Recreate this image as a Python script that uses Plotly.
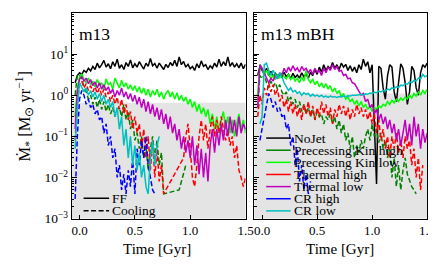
import plotly.graph_objects as go

W, H = 436, 273
FONT = "Liberation Serif"

# ---- time sampling (Gyr) ----
T0 = -0.04
DT = 0.02

SERIES = ["NoJet", "Precessing Kin high", "Precessing Kin low", "Thermal high",
          "Thermal low", "CR high", "CR low"]
COLORS = ["#000000", "#008000", "#00ff00", "#ff0000", "#bf00bf", "#0000ff", "#00bfbf"]
DASHED = [False, True, False, True, False, True, False]

# ---- m13 (left panel), SFR in Msun/yr ----
m13_nojet = [2.0, 3.0, 3.5, 3.2, 4.0, 3.6, 4.5, 3.9, 5.0, 4.2, 6.0, 4.6, 5.5, 7.0, 4.8, 5.8,
             4.4, 6.5, 5.0, 7.5, 4.5, 5.5, 4.2, 6.2, 5.0, 7.2, 4.6, 5.8, 4.8, 6.5, 5.2, 4.3,
             6.0, 5.0, 7.8, 5.2, 5.9, 4.5, 6.0, 5.0, 4.2, 5.6, 4.7, 6.2, 5.2, 7.0, 5.0, 8.5,
             5.5, 6.6, 4.8, 5.6, 4.4, 5.0, 4.0, 5.8, 4.6, 6.8, 5.0, 5.5, 4.2, 5.2, 4.5, 6.0,
             4.8, 7.5, 5.0, 6.5, 5.2, 8.5, 5.0, 6.2, 4.8, 5.8, 4.6, 6.0, 4.4, 5.6]
m13_kin_high = [1.0, 3.0, 3.2, 2.4, 1.6, 1.2, 0.8, 1.0, 0.6, 0.9, 0.5, 0.8, 0.45, 0.7, 0.4, 0.6,
                0.35, 0.5, 0.3, 0.45, 0.5, 0.3, 0.6, 0.25, 0.4, 0.15, 0.25, 0.08, 0.12, 0.05,
                0.1, 0.03, 0.06, 0.015, 0.05, 0.1, 0.03, 0.08, 0.02, 0.04, 0.004,
                None, None, None, None, None, None, 0.005, None, None, 0.02]
m13_kin_low = [0.3, 1.5, 2.8, 3.2, 2.5, 2.0, 2.6, 1.8, 2.2, 1.6, 2.4, 1.7, 2.0, 1.4, 2.5, 1.8,
               2.0, 1.4, 2.6, 1.9, 1.5, 2.3, 1.6, 2.0, 1.4, 1.8, 1.3, 1.7, 1.2, 1.6, 1.1, 1.5,
               1.0, 1.4, 0.9, 1.3, 1.0, 1.4, 0.9, 1.2, 0.8, 1.1, 1.3, 0.9, 1.2, 0.8, 1.15, 0.75,
               1.0, 0.7, 0.9, 0.6, 0.8, 0.5, 0.7, 0.4, 0.6, 0.35, 0.5, 0.3, 0.45, 0.2, 0.35,
               0.15, 0.3, 0.12, 0.25, 0.4, 0.15, 0.3, 0.12, 0.25, 0.1, 0.2, 0.35, 0.15, 0.25, 0.12]
m13_th_high = [0.08, 0.6, 1.8, 2.2, 1.5, 1.9, 1.3, 1.7, 1.2, 1.6, 1.1, 1.5, 1.0, 1.4, 0.9, 1.2,
               0.7, 1.0, 0.6, 0.9, 0.45, 0.8, 0.35, 0.6, 0.25, 0.4, 0.15, 0.3, 0.12, 0.2, 0.05,
               0.15, 0.03, 0.1, 0.015, 0.08, 0.01, 0.05, 0.008, 0.02, 0.004,
               None, None, None, None, None, None, None, None,
               0.03, 0.1, 0.2, 0.05, 0.01, 0.006, 0.02, 0.1, 0.25, 0.08, 0.2, 0.05, 0.15, 0.3,
               0.1, 0.25, 0.12, 0.3, 0.15, 0.08, 0.15, 0.06, 0.1, 0.03, 0.06, 0.015, 0.01,
               0.006, 0.01]
m13_th_low = [0.15, 1.2, 2.5, 2.8, 2.2, 2.6, 1.9, 2.4, 1.7, 2.1, 1.5, 2.0, 1.4, 1.8, 1.3, 1.6,
              1.1, 1.4, 0.9, 1.3, 1.0, 1.5, 0.9, 1.2, 0.8, 1.1, 0.7, 1.0, 0.6, 0.9, 0.5, 0.8,
              0.4, 0.7, 0.35, 0.6, 0.3, 0.5, 0.25, 0.45, 0.2, 0.35, 0.15, 0.3, 0.12, 0.2, 0.08,
              0.15, 0.05, 0.1, 0.04, 0.08, 0.03, 0.1, 0.02, 0.06, 0.012, 0.05, 0.01, 0.04,
              0.008, 0.06, 0.15, 0.04, 0.15, 0.06, 0.2, 0.08, 0.25, 0.1, 0.3, 0.12, 0.25, 0.1,
              0.3, 0.12, 0.2, 0.15]
m13_cr_high = [0.003, 0.1, 0.8, 1.3, 1.0, 0.6, 0.8, 0.5, 0.6, 0.35, 0.45, 0.25, 0.3, 0.12, 0.2,
               0.06, 0.1, 0.03, 0.05, 0.01, 0.02, 0.005, 0.012, 0.004, 0.015, 0.006, 0.03,
               0.004, 0.05, 0.02, 0.08, 0.03, 0.1, 0.02, 0.01, 0.005, 0.004]
m13_cr_low = [0.05, 0.5, 2.0, 1.6, 1.2, 1.5, 1.0, 1.3, 0.9, 1.2, 0.8, 1.1, 0.7, 1.0, 0.6, 0.8,
              0.5, 0.7, 0.3, 0.5, 0.15, 0.3, 0.06, 0.15, 0.03, 0.1, 0.02, 0.06, 0.015, 0.04,
              0.01, 0.02, 0.006, 0.004, 0.03, 0.08, 0.02, 0.06, 0.1]

# ---- m13 mBH (right panel) ----
mbh_nojet = [3.0, 5.0, 4.0, 3.2, 4.5, 3.0, 3.8, 2.8, 3.5, 2.6, 3.3, 2.7, 3.6, 2.8, 3.2, 2.5,
             3.4, 2.7, 3.1, 2.6, 3.5, 2.8, 3.3, 2.6, 3.6, 3.0, 4.2, 3.2, 4.8, 3.6, 5.5, 4.0,
             5.0, 4.4, 6.2, 4.5, 5.5, 4.2, 6.0, 4.8, 5.6, 4.0, 5.2, 3.8, 4.8, 3.5, 5.5, 4.2,
             7.5, 5.0, 6.5, 3.5, 5.5, 0.3, 0.007, 5.0, 4.5, 1.5, 0.8, 3.0, 5.5, 4.8, 1.2, 0.7,
             2.5, 5.8, 4.5, 2.0, 0.6, 1.2, 5.0, 4.0, 1.5, 1.0, 3.5, 5.5, 4.8, 6.0]
mbh_kin_high = [0.5, 3.0, 2.5, 3.2, 2.0, 1.5, 2.2, 1.6, 2.0, 1.4, 1.8, 1.2, 1.0, 1.2, 0.7, 0.9,
                0.6, 0.8, 0.5, 0.7, 0.4, 0.6, 0.35, 0.5, 0.3, 0.45, 0.25, 0.4, 0.3, 0.35, 0.2,
                0.3, 0.25, 0.35, 0.2, 0.3, 0.15, 0.25, 0.12, 0.2, 0.08, 0.12, 0.05, 0.1, 0.03,
                0.06, 0.04, 0.08, 0.05, 0.1, 0.15, 0.08, 0.2, 0.1, 0.15, 0.07, 0.12, 0.05,
                0.08, 0.03, 0.05, 0.01, 0.03, 0.006, 0.02, 0.005, 0.015, 0.03, 0.012, 0.008,
                0.006, 0.005, 0.004]
mbh_kin_low = [1.0, 5.5, 4.5, 3.0, 4.0, 3.2, 2.5, 3.0, 2.4, 3.2, 2.6, 3.5, 2.8, 2.5, 3.2, 2.4,
               2.8, 2.2, 2.6, 2.0, 2.8, 2.2, 4.0, 2.4, 2.0, 2.5, 1.8, 2.2, 1.6, 2.0, 1.5, 1.9,
               1.4, 1.7, 1.2, 1.5, 1.1, 1.3, 0.9, 1.1, 0.8, 0.9, 0.7, 0.8, 0.6, 0.75, 0.55, 0.7,
               0.5, 0.6, 0.45, 0.55, 0.4, 0.5, 0.45, 0.55, 0.5, 0.6, 0.55, 0.7, 0.6, 0.75, 0.65,
               0.8, 0.7, 0.85, 0.75, 0.9, 0.8, 1.0, 0.85, 1.1, 0.95, 1.2, 1.0, 1.3, 1.1, 1.4]
mbh_th_high = [0.3, 1.0, 0.6, 1.5, 1.0, 2.0, 1.2, 1.8, 1.0, 1.4, 0.7, 1.0, 0.5, 0.8, 0.4, 0.7,
               0.35, 0.6, 0.3, 0.5, 0.25, 0.6, 0.35, 0.7, 0.3, 0.55, 0.25, 0.5, 0.3, 0.7, 0.35,
               0.6, 0.3, 0.5, 0.2, 0.45, 0.3, 0.6, 0.35, 0.55, 0.3, 0.5, 0.25, 0.45, 0.3, 0.6,
               0.35, 0.5, 0.3, 0.45, 0.25, 0.4, 0.2, 0.35, 0.12, 0.25, 0.08, 0.15, 0.05, 0.1,
               0.03, 0.1, 0.05, 0.12, 0.04, 0.08, 0.03, 0.1, 0.05, 0.08, 0.02, 0.05, 0.01, 0.03,
               0.005, 0.02]
mbh_th_low = [0.5, 5.5, 4.5, 3.5, 2.5, 2.0, 2.6, 2.2, 3.0, 2.5, 3.5, 3.0, 4.5, 3.5, 4.8, 3.8,
              5.2, 4.0, 4.6, 3.6, 5.0, 4.0, 4.5, 3.5, 4.2, 3.2, 4.5, 3.6, 4.0, 3.0, 4.5, 3.5,
              4.8, 4.0, 5.5, 4.2, 5.0, 3.8, 4.0, 3.0, 3.2, 2.5, 2.6, 2.0, 1.9, 1.5, 1.2, 1.0,
              1.1, 0.7, 0.8, 0.5, 0.6, 0.35, 0.45, 0.25, 0.35, 0.2, 0.3, 0.15, 0.25, 0.12, 0.2,
              0.08, 0.15, 0.06, 0.12, 0.25, 0.08, 0.2, 0.06, 0.3, 0.1, 0.2, 0.05, 0.15, 0.07,
              0.12]
mbh_cr_high = [None, 0.08, 0.15, 0.3, 0.6, 1.1, 0.8, 0.5, 0.7, 0.4, 0.5, 0.3, 0.35, 0.15, 0.2,
               0.06, 0.1, 0.02, 0.05, 0.008, 0.02, 0.005, 0.012, 0.004, 0.008]
mbh_cr_low = [None, 0.2, 0.3, 5.5, 6.0, 4.0, 3.0, 4.0, 3.2, 2.5, 3.5, 2.8, 2.0, 1.6, 1.3, 1.5,
              1.2, 1.3, 1.1, 1.2, 1.0, 1.15, 1.05, 1.1, 0.95, 1.05, 0.95, 1.0, 0.92, 1.0, 0.9,
              0.95, 0.88, 0.95, 0.9, 0.92, 0.88, 0.93, 0.9, 0.95, 0.92, 0.97, 0.95, 1.0, 0.98,
              1.0, 1.02, 1.05, 1.0, 1.08, 1.05, 1.12, 1.1, 1.18, 1.15, 1.25, 1.2, 1.3, 1.28,
              1.4, 1.35, 1.5, 1.45, 1.6, 1.55, 1.75, 1.7, 1.9, 1.85, 2.1, 2.0, 2.3, 2.2, 2.6,
              2.5, 3.2, 2.8, 3.0]

PANELS = [
    ("m13", [m13_nojet, m13_kin_high, m13_kin_low, m13_th_high, m13_th_low, m13_cr_high, m13_cr_low]),
    ("m13 mBH", [mbh_nojet, mbh_kin_high, mbh_kin_low, mbh_th_high, mbh_th_low, mbh_cr_high, mbh_cr_low]),
]
SHADE_TOP = [0.65, 1.1]  # top of grey band per panel

X_RANGE = [-0.07, 1.5]
X_TICKS = [0.0, 0.5, 1.0, 1.5]
X_TICKTEXT = ["0.0", "0.5", "1.0", "1.5"]
Y_TICKS = [1e-3, 1e-2, 1e-1, 1e0, 1e1, 1e2]
Y_TICKTEXT = ["10<sup>\u22123</sup>", "10<sup>\u22122</sup>", "10<sup>\u22121</sup>",
              "10<sup>0</sup>", "10<sup>1</sup>", "10<sup>2</sup>"]
Y_MINOR = [m * 10.0 ** e for e in range(-3, 2) for m in range(2, 10)]
STYLE_LABELS = ["FF", "Cooling"]

def px(x):
    return x / W

def py(y):
    return 1 - y / H

fig = go.Figure()
x_domains = [[px(65), px(242)], [px(251), px(427)]]
y_domain = [py(217), py(5)]

for p, (name, series) in enumerate(PANELS):
    xa = "x" if p == 0 else "x2"
    ya = "y" if p == 0 else "y2"
    for i, vals in enumerate(series):
        t = [round(T0 + DT * k, 3) for k in range(len(vals))]
        fig.add_trace(go.Scatter(
            x=t, y=vals, mode="lines", xaxis=xa, yaxis=ya, connectgaps=True,
            line=dict(color=COLORS[i], width=1.5, dash="5px,2.5px" if DASHED[i] else "solid"),
            showlegend=False, hoverinfo="skip"))
    # grey band
    fig.add_shape(type="rect", xref=f"{xa} domain", yref=ya, x0=0, x1=1,
                  y0=1e-3, y1=SHADE_TOP[p], fillcolor="#e4e4e4", line_width=0, layer="below")
    # panel label
    fig.add_annotation(text=name, xref="paper", yref="paper",
                       x=px(70 if p == 0 else 256), y=py(27), xanchor="left", yanchor="middle",
                       showarrow=False, font=dict(family=FONT, size=17.5, color="black"))
    # x title
    fig.add_annotation(text="Time [Gyr]", xref="paper", yref="paper",
                       x=px(152 if p == 0 else 338), y=py(248), xanchor="center", yanchor="middle",
                       showarrow=False, font=dict(family=FONT, size=15, color="black"))

# style legend (left panel)
for k, lab in enumerate(STYLE_LABELS):
    yy = py(196 + 12.8 * k)
    fig.add_shape(type="line", xref="paper", yref="paper", x0=px(77), x1=px(103), y0=yy, y1=yy,
                  line=dict(color="black", width=1.5, dash="solid" if k == 0 else "5px,2.5px"))
    fig.add_annotation(text=lab, xref="paper", yref="paper", x=px(104), y=yy,
                       xanchor="left", yanchor="middle", showarrow=False,
                       font=dict(family=FONT, size=13.5, color="black"))

# model legend (right panel)
for k, lab in enumerate(SERIES):
    yy = py(134 + 12.5 * k)
    fig.add_shape(type="line", xref="paper", yref="paper", x0=px(263), x1=px(288), y0=yy, y1=yy,
                  line=dict(color=COLORS[k], width=1.5))
    fig.add_annotation(text=lab, xref="paper", yref="paper", x=px(289), y=yy,
                       xanchor="left", yanchor="middle", showarrow=False,
                       font=dict(family=FONT, size=13.5, color="black"))

# y title
fig.add_annotation(text="\u1e40<sub>*</sub> [M<sub>\u2299</sub> yr<sup>\u22121</sup>]",
                   xref="paper", yref="paper", x=px(16), y=py(112), textangle=-90,
                   xanchor="center", yanchor="middle", showarrow=False,
                   font=dict(family=FONT, size=16.5, color="black"))

axis_common = dict(showline=True, linecolor="black", linewidth=1, mirror=True, showgrid=False,
                   zeroline=False, ticks="inside", tickcolor="black", tickwidth=1)
xcommon = dict(axis_common, range=X_RANGE, tickvals=X_TICKS, ticktext=X_TICKTEXT, ticklen=4,
               tickfont=dict(family=FONT, size=13, color="black"))
ycommon = dict(axis_common, type="log", range=[-3, 2], domain=y_domain, tickvals=Y_TICKS,
               ticktext=Y_TICKTEXT, ticklen=5,
               tickfont=dict(family=FONT, size=13.5, color="black"),
               minor=dict(tickvals=Y_MINOR, ticks="inside", ticklen=2.5, tickcolor="black",
                          tickwidth=0.8, showgrid=False))

fig.update_layout(
    width=W, height=H, margin=dict(l=0, r=0, t=0, b=0),
    paper_bgcolor="white", plot_bgcolor="white", showlegend=False,
    xaxis=dict(xcommon, domain=x_domains[0], anchor="y"),
    yaxis=dict(ycommon, anchor="x"),
    xaxis2=dict(xcommon, domain=x_domains[1], anchor="y2"),
    yaxis2=dict(ycommon, anchor="x2", showticklabels=False),
)

fig.write_html("out.html")
